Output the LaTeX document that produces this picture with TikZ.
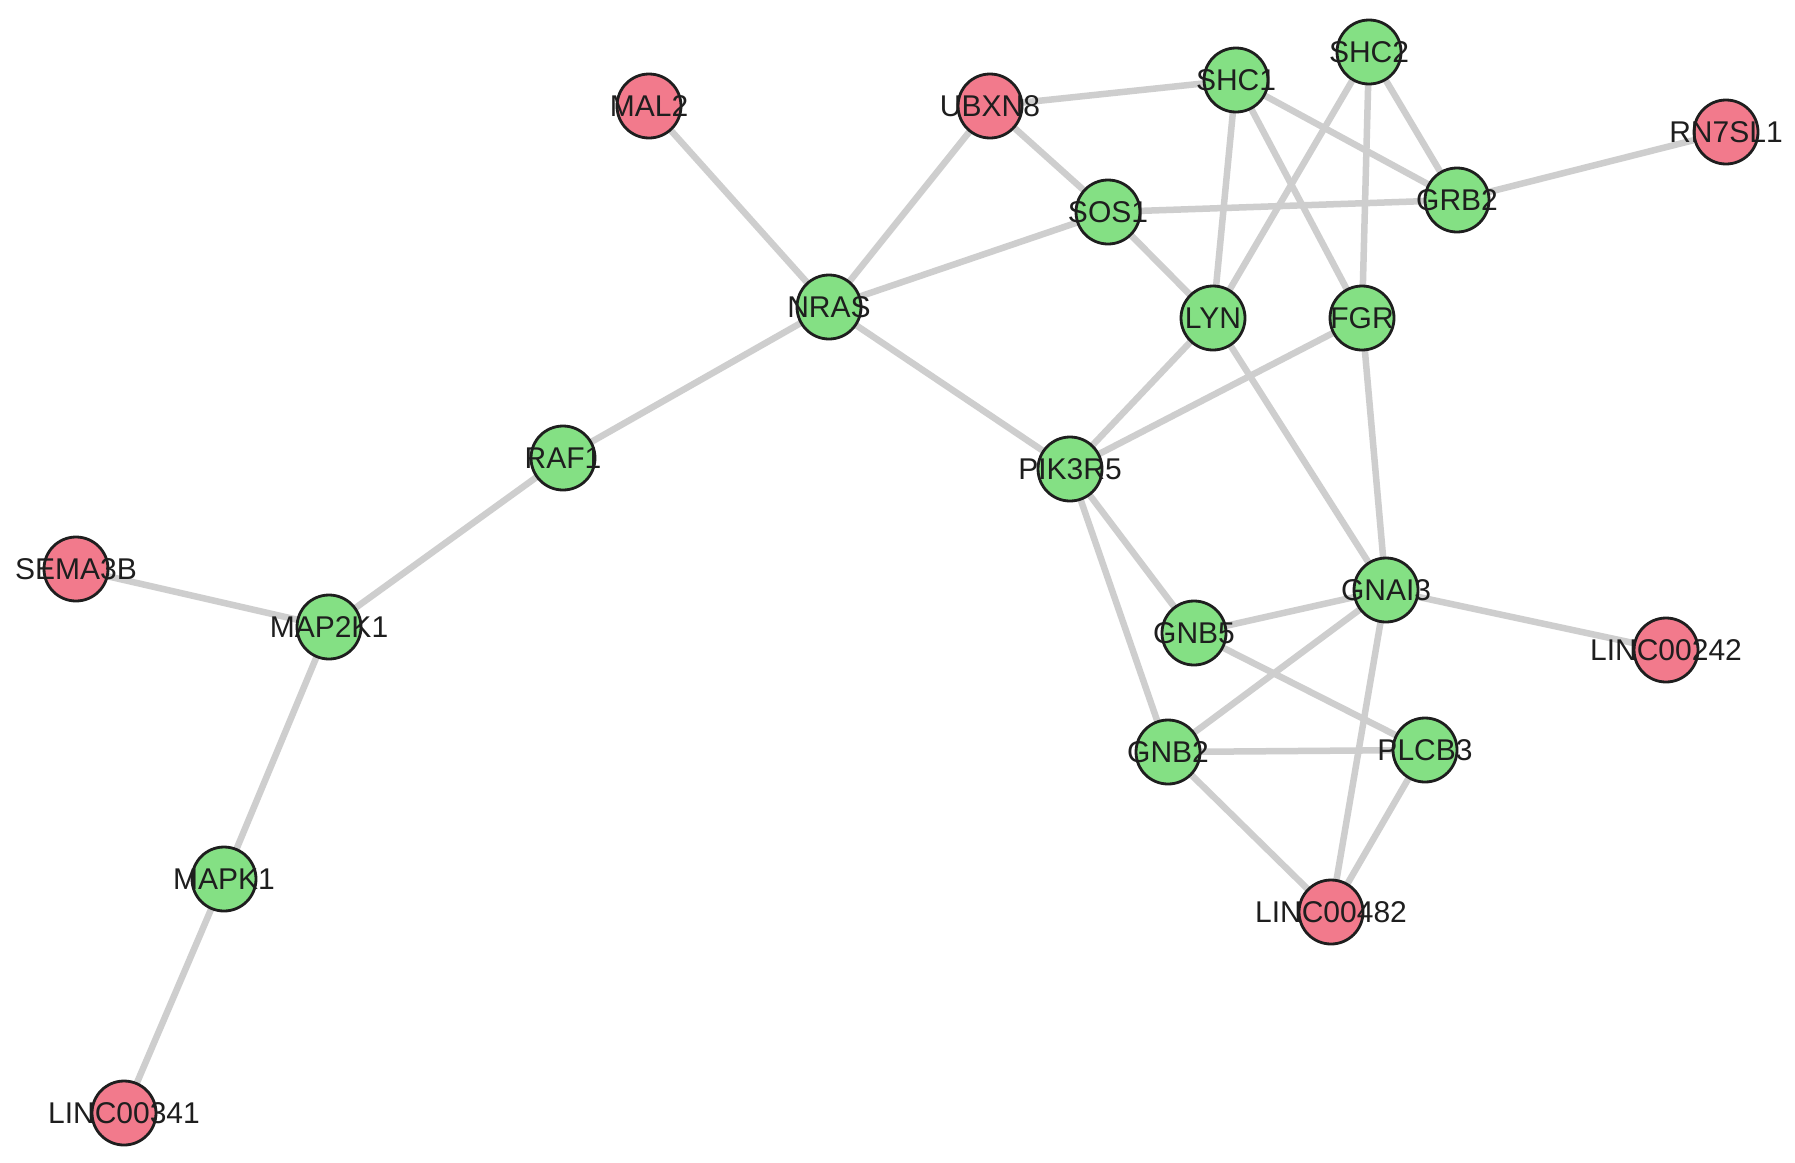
\documentclass[tikz,border=0pt]{standalone}
\usepackage{fontspec}
\setmainfont{Liberation Sans}
\definecolor{pinkfill}{RGB}{242,122,140}
\definecolor{greenfill}{RGB}{132,224,132}
\definecolor{edgegray}{RGB}{206,206,206}
\definecolor{ringcol}{RGB}{30,30,30}
\definecolor{txtcol}{RGB}{30,30,30}
\pgfdeclarelayer{background}
\pgfsetlayers{background,main}
\begin{document}
\begin{tikzpicture}[x=1pt,y=-1pt,
  genebase/.style={circle,draw=ringcol,line width=2.8pt,minimum size=64pt,inner sep=0pt,
    label={[text=txtcol,font=\fontsize{30}{30}\selectfont]center:#1}},
  lnc/.style={genebase=#1,fill=pinkfill},
  prot/.style={genebase=#1,fill=greenfill},
  link/.style={draw=edgegray,line width=6.5pt}]
\useasboundingbox (0,0) rectangle (1795,1162);
\node[lnc=MAL2] (MAL2) at (649,106) {};
\node[lnc=UBXN8] (UBXN8) at (990,106) {};
\node[prot=SHC1] (SHC1) at (1236,80) {};
\node[prot=SHC2] (SHC2) at (1369,52) {};
\node[lnc=RN7SL1] (RN7SL1) at (1726,132) {};
\node[prot=GRB2] (GRB2) at (1457,200) {};
\node[prot=SOS1] (SOS1) at (1108,212) {};
\node[prot=NRAS] (NRAS) at (829,307) {};
\node[prot=LYN] (LYN) at (1213,318) {};
\node[prot=FGR] (FGR) at (1362,318) {};
\node[prot=RAF1] (RAF1) at (563,458) {};
\node[prot=PIK3R5] (PIK3R5) at (1070,469) {};
\node[lnc=SEMA3B] (SEMA3B) at (76,569) {};
\node[prot=MAP2K1] (MAP2K1) at (329,627) {};
\node[prot=GNAI3] (GNAI3) at (1386,590) {};
\node[prot=GNB5] (GNB5) at (1194,633) {};
\node[lnc=LINC00242] (LINC00242) at (1666,650) {};
\node[prot=GNB2] (GNB2) at (1168,752) {};
\node[prot=PLCB3] (PLCB3) at (1425,750) {};
\node[prot=MAPK1] (MAPK1) at (224,879) {};
\node[lnc=LINC00482] (LINC00482) at (1331,912) {};
\node[lnc=LINC00341] (LINC00341) at (124,1113) {};
\begin{pgfonlayer}{background}
\fill[white] (0,0) rectangle (1795,1162);
\foreach \a/\b in {MAL2/NRAS,UBXN8/NRAS,UBXN8/SHC1,UBXN8/SOS1,NRAS/SOS1,NRAS/RAF1,NRAS/PIK3R5,
  SOS1/GRB2,SOS1/LYN,SHC1/LYN,SHC1/FGR,SHC1/GRB2,SHC2/GRB2,SHC2/LYN,SHC2/FGR,GRB2/RN7SL1,
  LYN/PIK3R5,FGR/PIK3R5,LYN/GNAI3,FGR/GNAI3,RAF1/MAP2K1,SEMA3B/MAP2K1,MAP2K1/MAPK1,MAPK1/LINC00341,
  PIK3R5/GNB5,PIK3R5/GNB2,GNAI3/GNB5,GNAI3/GNB2,GNAI3/LINC00242,GNAI3/LINC00482,GNB5/PLCB3,
  GNB2/PLCB3,GNB2/LINC00482,PLCB3/LINC00482}
  \draw[link] (\a.center) -- (\b.center);
\end{pgfonlayer}
\end{tikzpicture}
\end{document}
